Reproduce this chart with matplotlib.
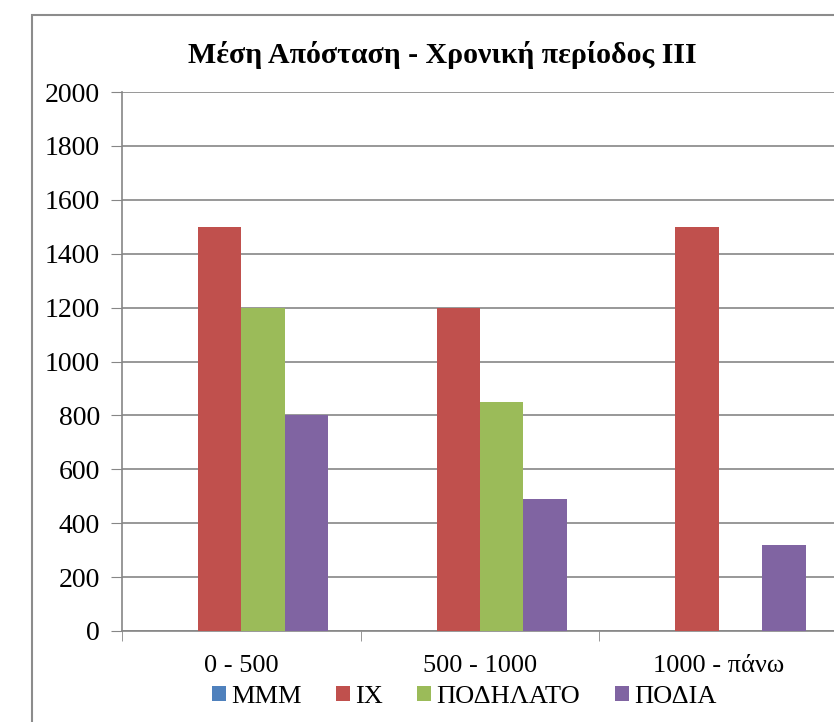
import matplotlib.pyplot as plt
import numpy as np
from matplotlib.patches import Rectangle

# Δεδομένα
categories = ['0 - 500', '500 - 1000', '1000 - πάνω']
series_names = ['ΜΜΜ', 'ΙΧ', 'ΠΟΔΗΛΑΤΟ', 'ΠΟΔΙΑ']
mmm = [0, 0, 0]
ix = [1500, 1200, 1500]
podilato = [1200, 850, 0]
podia = [800, 490, 320]
colors = ['#4F81BD', '#C0504D', '#9BBB59', '#8064A2']
y_ticks = list(range(0, 2001, 200))

plt.rcParams['font.family'] = ['Liberation Serif', 'DejaVu Serif']

W, H = 834, 722
fig = plt.figure(figsize=(W / 100, H / 100), dpi=100)

# Πλαίσιο γραφήματος (κομμένο δεξιά και κάτω)
fig.patches.append(Rectangle((32 / W, -0.1), 1.2, 1 - 15 / H + 0.1,
                             transform=fig.transFigure, fill=False,
                             edgecolor='#8c8c8c', linewidth=1.5))

left, right, bottom, top = 122, 838, 631, 92
ax = fig.add_axes([left / W, 1 - bottom / H, (right - left) / W, (bottom - top) / H])

x = np.arange(len(categories))
width = 0.182
all_vals = [mmm, ix, podilato, podia]
for i, (vals, name, c) in enumerate(zip(all_vals, series_names, colors)):
    ax.bar(x + (i - 1.5) * width, vals, width, color=c, label=name, zorder=3)

ax.set_xlim(-0.5, len(categories) - 0.5)
ax.set_ylim(0, 2000)
ax.set_yticks(y_ticks)
ax.tick_params(axis='y', labelsize=20, length=8, color='#868686', pad=8)
ax.grid(axis='y', color='#868686', linewidth=1.2, zorder=0)

ax.set_xticks(x)
ax.set_xticklabels(categories, fontsize=19)
ax.set_xticks(np.arange(len(categories) + 1) - 0.5, minor=True)
ax.tick_params(axis='x', which='major', length=0, pad=17)
ax.tick_params(axis='x', which='minor', length=7, color='#868686')

for s in ['top', 'right']:
    ax.spines[s].set_visible(False)
for s in ['left', 'bottom']:
    ax.spines[s].set_color('#868686')
    ax.spines[s].set_linewidth(1.2)

fig.text(442 / W, 1 - 55 / H, 'Μέση Απόσταση - Χρονική περίοδος ΙΙΙ',
         ha='center', va='center', fontsize=21.5, fontweight='bold')

fig.legend(loc='center', bbox_to_anchor=(464 / W, 1 - 697 / H), ncol=4,
           frameon=False, fontsize=19, handlelength=0.53, handleheight=0.5,
           handletextpad=0.2, columnspacing=1.3, borderaxespad=0)

plt.savefig('out.png', dpi=100)
